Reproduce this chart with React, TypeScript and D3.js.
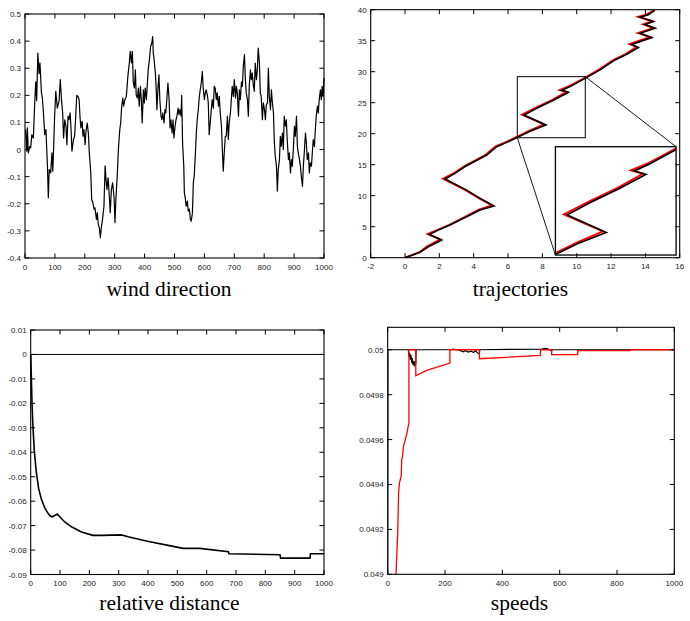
import { useEffect, useRef } from 'react';
import * as d3 from 'd3';

// ---- wind direction ----
const windX = [2, 6, 8, 11, 16, 19, 23, 28, 32, 36, 39, 43, 47, 50, 55, 58, 61, 66, 70, 75, 78, 81, 86, 90, 93, 96, 99, 103, 108, 114, 118, 122, 126, 129, 133, 137, 140, 144, 147, 151, 154, 157, 162, 166, 169, 173, 177, 181, 184, 187, 191, 194, 197, 201, 204, 208, 212, 215, 220, 223, 227, 231, 234, 239, 242, 245, 249, 252, 255, 260, 264, 268, 271, 274, 278, 282, 285, 289, 293, 298, 301, 304, 309, 312, 317, 320, 323, 327, 330,
  334, 339, 344, 349, 352, 356, 359, 362, 366, 369, 372, 376, 379, 382, 386, 389, 392, 396, 399, 402, 406, 409, 412, 416, 420, 424, 427, 429, 432, 436, 439, 441, 445, 448, 451, 455, 458, 461, 465, 468, 471, 475, 478, 482, 485, 488, 492, 495, 498, 502, 505, 508, 512, 515, 518, 522, 524, 527, 531, 533, 536, 539, 543, 546, 550, 553, 556, 560, 563, 566, 570, 573, 576, 580, 583, 586, 590, 593, 596, 600, 603, 606, 610, 613, 616, 620, 623, 626, 630, 633, 636, 640, 643, 647, 650, 653, 657, 660, 663, 667, 670,
  673, 677, 680, 683, 687, 690, 693, 697, 700, 704, 707, 710, 714, 717, 720, 724, 727, 730, 734, 737, 740, 744, 747, 750, 754, 757, 760, 764, 767, 770, 774, 777, 780, 784, 787, 790, 794, 797, 801, 804, 807, 811, 814, 817, 821, 824, 827, 831, 834, 837, 841, 844, 847, 851, 854, 857, 861, 864, 867, 871, 874, 877, 881, 884, 888, 891, 894, 898, 901, 904, 908, 911, 914, 918, 921, 924, 928, 931, 934, 938, 941, 944, 948, 951, 954, 958, 961, 964, 968, 971, 974, 978, 981, 984, 988, 991, 994, 997, 1000];
const windY = [0.074, -0.006, 0.08, -0.012, 0.012, 0.006, 0.055, 0.043, 0.16, 0.25, 0.18, 0.356, 0.28, 0.32, 0.21, 0.19, 0.147, 0.055, 0.074, -0.06, -0.178, -0.074, -0.086, -0.012, -0.08, 0.012, 0.12, 0.215, 0.153, 0.18, 0.258, 0.184, 0.135, 0.043, 0.11, 0.086, 0.018, 0.123, 0.11, 0.135, 0.074, -0.006, 0.037, 0.049, 0.11, 0.2, 0.196, 0.184, 0.12, 0.08, 0.104, 0.049, 0.074, 0.018, 0.067, 0.098, 0.06, -0.012, -0.086, -0.184, -0.196, -0.22, -0.215, -0.258, -0.233, -0.276, -0.29, -0.325, -0.29, -0.25, -0.21, -0.06, -0.11, -0.147, -0.104, -0.172, -0.233, -0.147, -0.123, -0.178, -0.27, -0.184, -0.086, -0.006, 0.074, 0.098, 0.153, 0.19, 0.16,
  0.184, 0.196, 0.27, 0.32, 0.362, 0.32, 0.362, 0.25, 0.227, 0.294, 0.2, 0.19, 0.227, 0.16, 0.233, 0.184, 0.098, 0.22, 0.172, 0.227, 0.184, 0.24, 0.294, 0.33, 0.38, 0.393, 0.417, 0.356, 0.33, 0.282, 0.22, 0.147, 0.233, 0.276, 0.184, 0.123, 0.11, 0.135, 0.098, 0.147, 0.135, 0.196, 0.245, 0.184, 0.08, 0.11, 0.061, 0.11, 0.043, 0.086, 0.11, 0.123, 0.153, 0.129, 0.147, 0.123, 0.2, 0.025, -0.061, -0.16, -0.178, -0.209, -0.19, -0.227, -0.22, -0.258, -0.264, -0.233, -0.123, -0.098, -0.012, 0.061, 0.11, 0.153, 0.196, 0.22, 0.25, 0.288, 0.227, 0.184, 0.209, 0.22, 0.2, 0.172, 0.055, 0.104, 0.147, 0.184, 0.153, 0.233, 0.227, 0.184, 0.209, 0.16, 0.196, 0.135, 0.086, 0, -0.08, 0, 0.049,
  0.049, 0.123, 0.037, 0.098, 0.135, 0.184, 0.233, 0.196, 0.258, 0.19, 0.233, 0.209, 0.123, 0.22, 0.184, 0.25, 0.233, 0.307, 0.35, 0.258, 0.209, 0.184, 0.123, 0.233, 0.294, 0.258, 0.282, 0.233, 0.215, 0.319, 0.258, 0.294, 0.374, 0.319, 0.209, 0.196, 0.11, 0.172, 0.147, 0.11, 0.166, 0.172, 0.3, 0.196, 0.147, 0.22, 0.178, 0.135, 0.025, -0.025, -0.061, -0.153, -0.074, -0.037, 0.049, 0.012, 0.061, 0, 0.123, 0.086, 0.11, 0.037, -0.037, -0.012, -0.086, -0.037, -0.061, 0.012, 0.086, 0.049, 0.123, 0.012, -0.012, -0.037, -0.061, -0.098, -0.135, -0.061, -0.012, 0.061, 0.025, -0.037, -0.012, -0.086, -0.049, -0.061, -0.012, 0.037, 0.012, 0.074, 0.123, 0.16, 0.135, 0.184, 0.22, 0.184, 0.233, 0.196, 0.264];

// ---- trajectories ----
const trajBlackX = [0, 0.87, 1.36, 2.14, 1.42, 1.94, 2.62, 3.79, 4.37, 5.18, 4.37, 3.59, 2.33, 2.91, 3.5, 4.76, 5.34, 5.92, 6.5, 7.28, 8.21, 6.93, 7.67, 8.64, 9.51, 9.13, 9.61, 10.54, 11.36, 12.23, 12.91, 13.59, 13.2, 14.37, 13.69, 14.56, 13.98, 14.47, 13.69, 14.17, 14.56];
const trajBlackY = [0, 0.86, 1.77, 2.85, 3.76, 4.46, 5.27, 6.88, 7.69, 8.33, 9.57, 10.9, 12.69, 13.6, 14.7, 16.56, 17.9, 18.6, 19.35, 20.4, 21.4, 23.0, 24.1, 25.4, 26.67, 27.0, 27.6, 29.0, 30.3, 31.9, 32.8, 33.9, 34.4, 35.5, 36.2, 37.0, 37.6, 38.1, 38.8, 39.2, 39.9];
const trajRedX = [0, 0.85, 1.3, 2.05, 1.32, 1.9, 2.58, 3.72, 4.3, 5.08, 4.3, 3.5, 2.22, 2.85, 3.45, 4.7, 5.28, 5.88, 6.45, 7.22, 8.1, 6.82, 7.6, 8.58, 9.42, 9.02, 9.55, 10.5, 11.3, 12.18, 12.85, 13.5, 13.08, 14.28, 13.58, 14.48, 13.88, 14.4, 13.58, 14.1, 14.5];
const trajRedY = [0, 0.9, 1.82, 2.95, 3.82, 4.5, 5.3, 6.92, 7.75, 8.45, 9.6, 10.95, 12.75, 13.65, 14.75, 16.6, 17.95, 18.65, 19.4, 20.45, 21.5, 23.05, 24.15, 25.45, 26.75, 27.05, 27.65, 29.05, 30.35, 31.95, 32.85, 34.0, 34.45, 35.6, 36.25, 37.05, 37.65, 38.15, 38.85, 39.25, 39.95];
// zoom window and where it is shown
const zoomFrom = [6.54, 10.5, 19.35, 29.2];
const zoomTo = [8.76, 15.79, 0.43, 17.9];

// ---- relative distance ----
const relX = [0, 2, 4.5, 8, 12.5, 19, 27, 36, 48, 59, 68, 74, 80, 91, 99, 116, 139, 173, 212, 241, 309, 332, 398, 486, 520, 577, 674, 676, 850, 852, 952, 954, 1000];
const relY = [0, -0.0085, -0.02, -0.0303, -0.0398, -0.048, -0.0548, -0.059, -0.0628, -0.065, -0.0662, -0.0664, -0.066, -0.0653, -0.0664, -0.0685, -0.0705, -0.0726, -0.074, -0.074, -0.0738, -0.0746, -0.0764, -0.0785, -0.0793, -0.0793, -0.0807, -0.0815, -0.0819, -0.0833, -0.0833, -0.0815, -0.0815];

// ---- speeds ----
const speedRedX = [29, 31, 35, 38, 41, 47, 49, 52, 55, 60, 66, 72, 74, 74, 98, 98, 136, 217, 217, 320, 320, 533, 533, 572, 572, 663, 663, 845, 845, 1000];
const speedRedY = [0.049, 0.049067, 0.049185, 0.049363, 0.049407, 0.049437, 0.049511, 0.049526, 0.04957, 0.049593, 0.049622, 0.049662, 0.049671, 0.05, 0.05, 0.049884, 0.049908, 0.049941, 0.05, 0.05, 0.04996, 0.049975, 0.05, 0.05, 0.049978, 0.049978, 0.049996, 0.049996, 0.05, 0.05];
const speedBlackX = [0, 1, 72, 74, 77, 79, 81, 84, 86, 88, 91, 93, 95, 98, 99, 220, 229, 241, 252, 264, 270, 281, 291, 299, 307, 314, 320, 321, 537, 549, 561, 572, 574, 1000];
const speedBlackY = [0.049, 0.05, 0.05, 0.04997, 0.049985, 0.049956, 0.049978, 0.049941, 0.049963, 0.049933, 0.049948, 0.049926, 0.049948, 0.049935, 0.05, 0.05, 0.050003, 0.05, 0.049997, 0.049991, 0.049996, 0.04999, 0.049994, 0.049988, 0.049996, 0.049985, 0.049982, 0.05, 0.050003, 0.050006, 0.050003, 0.049995, 0.05, 0.05];

const xTicks1000 = d3.range(0, 1001, 100);
const xTicks200 = d3.range(0, 1001, 200);
const windYTicks = [-0.4, -0.3, -0.2, -0.1, 0, 0.1, 0.2, 0.3, 0.4, 0.5];
const trajXTicks = [-2, 0, 2, 4, 6, 8, 10, 12, 14, 16];
const trajYTicks = [0, 5, 10, 15, 20, 25, 30, 35, 40];
const relYTicks = [-0.09, -0.08, -0.07, -0.06, -0.05, -0.04, -0.03, -0.02, -0.01, 0, 0.01];
const speedYTicks = [0.049, 0.0492, 0.0494, 0.0496, 0.0498, 0.05];

const titles = [
  { text: 'wind direction', x: 169, y: 296 },
  { text: 'trajectories', x: 520.5, y: 296 },
  { text: 'relative distance', x: 169.5, y: 610 },
  { text: 'speeds', x: 519.5, y: 610 },
];

const TICK_FONT = 'Liberation Sans';

type Sel = d3.Selection<SVGGElement, unknown, null, undefined>;
type Scale = d3.ScaleLinear<number, number>;

// gnuplot-like box with mirrored inner ticks
function drawFrame(g: Sel, x: Scale, y: Scale, xt: number[], yt: number[]) {
  const fmt = (v: number) => String(+v.toFixed(4));
  const [l, r] = x.range();
  const [b, t] = y.range();
  const tl = 4.5;
  xt.forEach(v => {
    const px = x(v);
    g.append('line').attr('x1', px).attr('x2', px).attr('y1', b).attr('y2', b - tl).attr('stroke', '#000');
    g.append('line').attr('x1', px).attr('x2', px).attr('y1', t).attr('y2', t + tl).attr('stroke', '#000');
    g.append('text').attr('x', px).attr('y', b + 11.5).attr('text-anchor', 'middle')
      .attr('font-family', TICK_FONT).attr('font-size', 8).attr('fill', '#222').text(fmt(v));
  });
  yt.forEach(v => {
    const py = y(v);
    g.append('line').attr('x1', l).attr('x2', l + tl).attr('y1', py).attr('y2', py).attr('stroke', '#000');
    g.append('line').attr('x1', r).attr('x2', r - tl).attr('y1', py).attr('y2', py).attr('stroke', '#000');
    g.append('text').attr('x', l - 4).attr('y', py + 3).attr('text-anchor', 'end')
      .attr('font-family', TICK_FONT).attr('font-size', 8).attr('fill', '#222').text(fmt(v));
  });
  g.append('rect').attr('x', l).attr('y', t).attr('width', r - l).attr('height', b - t)
    .attr('fill', 'none').attr('stroke', '#000').attr('stroke-width', 1.1);
}

const App = () => {
  const gRef = useRef<SVGGElement>(null);

  useEffect(() => {
    const root = d3.select(gRef.current as SVGGElement);
    root.selectAll('*').remove();
    const defs = root.append('defs');

    const line = (xs: number[], ys: number[], x: Scale, y: Scale) =>
      d3.line<number>().x(i => x(xs[i])).y(i => y(ys[i]))(d3.range(xs.length));

    // --- wind direction ---
    const x1 = d3.scaleLinear().domain([0, 1000]).range([25, 324]);
    const y1 = d3.scaleLinear().domain([-0.4, 0.5]).range([258, 14]);
    const g1 = root.append('g');
    g1.append('path').attr('d', line(windX, windY, x1, y1)).attr('fill', 'none')
      .attr('stroke', '#000').attr('stroke-width', 1.2).attr('stroke-linejoin', 'round');
    drawFrame(g1, x1, y1, xTicks1000, windYTicks);

    // --- trajectories ---
    const x2 = d3.scaleLinear().domain([-2, 16]).range([370.7, 679.7]);
    const y2 = d3.scaleLinear().domain([0, 40]).range([257.7, 9.7]);
    const g2 = root.append('g');
    defs.append('clipPath').attr('id', 'clip2').append('rect')
      .attr('x', 370.7).attr('y', 9.7).attr('width', 309).attr('height', 248);
    const main = g2.append('g').attr('clip-path', 'url(#clip2)');
    main.append('path').attr('d', line(trajRedX, trajRedY, x2, y2)).attr('fill', 'none')
      .attr('stroke', '#f00').attr('stroke-width', 2);
    main.append('path').attr('d', line(trajBlackX, trajBlackY, x2, y2)).attr('fill', 'none')
      .attr('stroke', '#000').attr('stroke-width', 1.6);

    // zoom box + connectors
    const [zx0, zx1, zy0, zy1] = zoomFrom;
    const [ix0, ix1, iy0, iy1] = zoomTo;
    g2.append('rect').attr('x', x2(zx0)).attr('y', y2(zy1)).attr('width', x2(zx1) - x2(zx0))
      .attr('height', y2(zy0) - y2(zy1)).attr('fill', 'none').attr('stroke', '#000').attr('stroke-width', 1);
    g2.append('line').attr('x1', x2(zx1)).attr('y1', y2(zy1)).attr('x2', x2(ix1)).attr('y2', y2(iy1)).attr('stroke', '#000').attr('stroke-width', 0.9);
    g2.append('line').attr('x1', x2(zx0)).attr('y1', y2(zy0)).attr('x2', x2(ix0)).attr('y2', y2(iy0)).attr('stroke', '#000').attr('stroke-width', 0.9);
    const xi = d3.scaleLinear().domain([zx0, zx1]).range([x2(ix0), x2(ix1)]);
    const yi = d3.scaleLinear().domain([zy0, zy1]).range([y2(iy0), y2(iy1)]);
    defs.append('clipPath').attr('id', 'clipInset').append('rect')
      .attr('x', x2(ix0)).attr('y', y2(iy1)).attr('width', x2(ix1) - x2(ix0)).attr('height', y2(iy0) - y2(iy1));
    const inset = g2.append('g');
    inset.append('rect').attr('x', x2(ix0)).attr('y', y2(iy1)).attr('width', x2(ix1) - x2(ix0))
      .attr('height', y2(iy0) - y2(iy1)).attr('fill', '#fff');
    const ic = inset.append('g').attr('clip-path', 'url(#clipInset)');
    ic.append('path').attr('d', line(trajRedX, trajRedY, xi, yi)).attr('fill', 'none')
      .attr('stroke', '#f00').attr('stroke-width', 2);
    ic.append('path').attr('d', line(trajBlackX, trajBlackY, xi, yi)).attr('fill', 'none')
      .attr('stroke', '#000').attr('stroke-width', 1.6);
    inset.append('rect').attr('x', x2(ix0)).attr('y', y2(iy1)).attr('width', x2(ix1) - x2(ix0))
      .attr('height', y2(iy0) - y2(iy1)).attr('fill', 'none').attr('stroke', '#000').attr('stroke-width', 1.3);
    drawFrame(g2, x2, y2, trajXTicks, trajYTicks);

    // --- relative distance ---
    const x3 = d3.scaleLinear().domain([0, 1000]).range([30.7, 324]);
    const y3 = d3.scaleLinear().domain([-0.09, 0.01]).range([574.5, 330]);
    const g3 = root.append('g');
    g3.append('line').attr('x1', x3(0)).attr('x2', x3(1000)).attr('y1', y3(0)).attr('y2', y3(0))
      .attr('stroke', '#000').attr('stroke-width', 1);
    g3.append('path').attr('d', line(relX, relY, x3, y3)).attr('fill', 'none')
      .attr('stroke', '#000').attr('stroke-width', 1.6);
    drawFrame(g3, x3, y3, xTicks1000, relYTicks);

    // --- speeds ---
    const x4 = d3.scaleLinear().domain([0, 1000]).range([387.7, 674.3]);
    const y4 = d3.scaleLinear().domain([0.049, 0.0501]).range([574.3, 327.3]);
    const g4 = root.append('g');
    defs.append('clipPath').attr('id', 'clip4').append('rect')
      .attr('x', 387.7).attr('y', 327.3).attr('width', 286.6).attr('height', 247);
    const c4 = g4.append('g').attr('clip-path', 'url(#clip4)');
    c4.append('path').attr('d', line(speedBlackX, speedBlackY, x4, y4)).attr('fill', 'none')
      .attr('stroke', '#000').attr('stroke-width', 1.2);
    c4.append('path').attr('d', line(speedRedX, speedRedY, x4, y4)).attr('fill', 'none')
      .attr('stroke', '#f00').attr('stroke-width', 1.3);
    drawFrame(g4, x4, y4, xTicks200, speedYTicks);
  }, []);

  return (
    <svg width={690} height={621}
      style={{ position: 'absolute', left: 0, top: 0, background: '#fff' }}>
      <g ref={gRef} />
      {titles.map(t => (
        <text key={t.text} x={t.x} y={t.y} textAnchor="middle" fontFamily="Liberation Serif"
          fontSize={21.5} fill="#000">{t.text}</text>
      ))}
    </svg>
  );
};

export default App;
